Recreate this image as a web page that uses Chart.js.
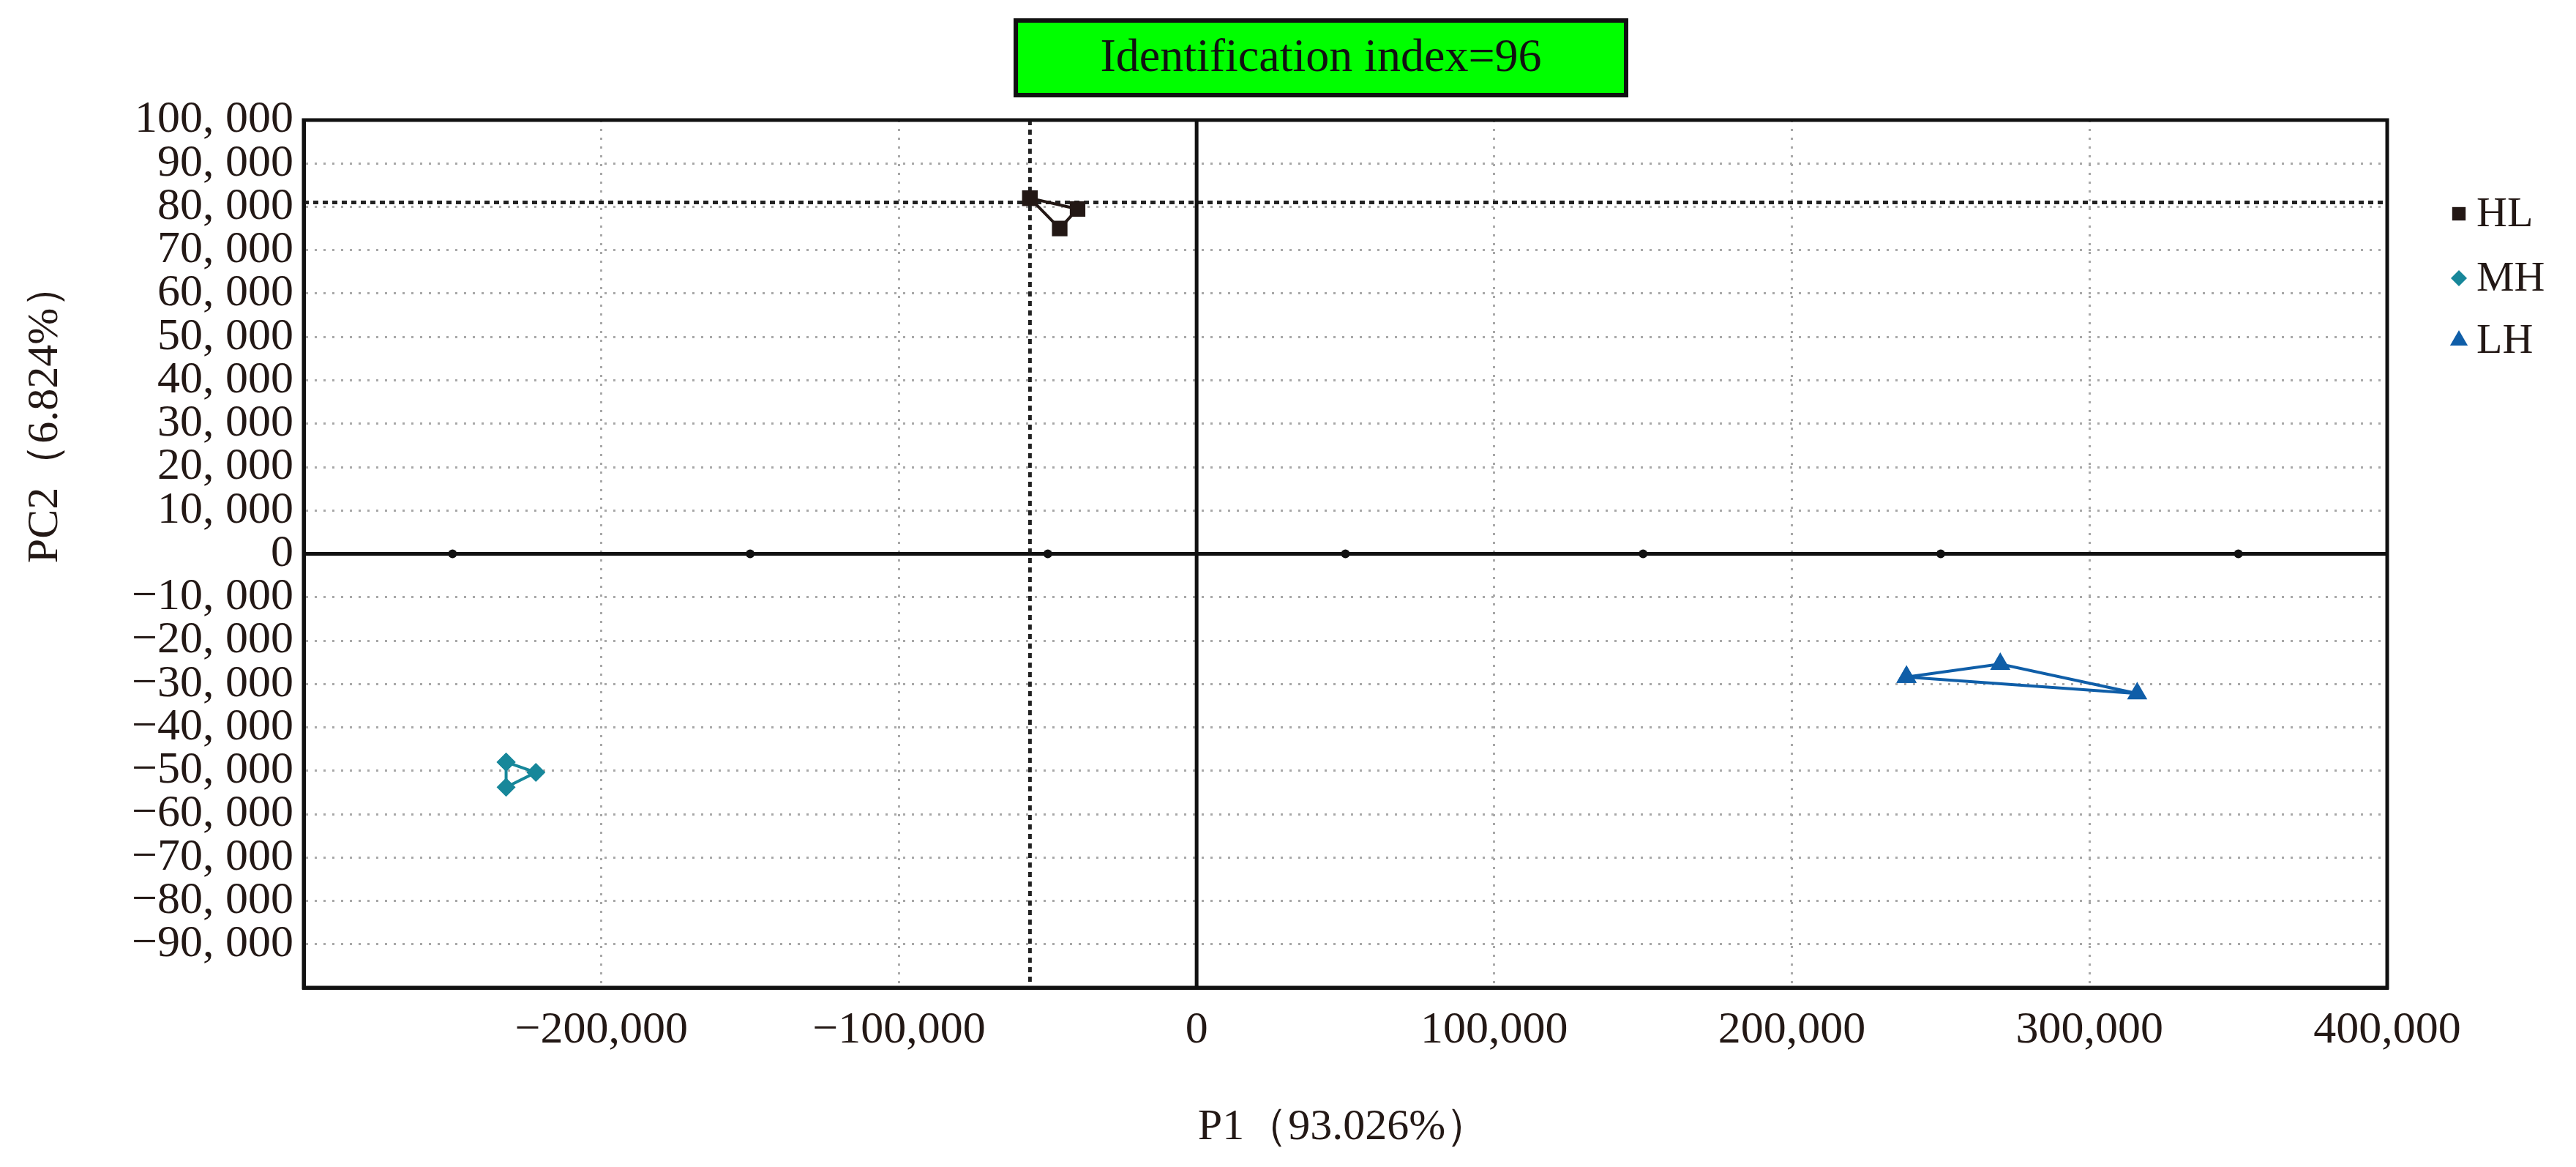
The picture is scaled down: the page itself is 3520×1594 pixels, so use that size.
<!DOCTYPE html>
<html>
<head>
<meta charset="utf-8">
<script src="https://cdn.jsdelivr.net/npm/chart.js@4.4.1/dist/chart.umd.min.js"></script>
<style>
  html, body { margin: 0; padding: 0; background: #fff; }
  #wrap { width: 3520px; height: 1594px; position: relative; }
</style>
</head>
<body>
<div id="wrap"><canvas id="pca"></canvas></div>
<script>
// --- data ---
const seriesNames = ['HL', 'MH', 'LH'];
const hlX = [-56000, -40000, -46000];
const hlY = [82000, 79500, 75000];
const mhX = [-232000, -232000, -222000];
const mhY = [-48000, -53800, -50400];
const lhX = [238500, 270000, 316000];
const lhY = [-28400, -25400, -32200];
const xTickLabels = [-200000, -100000, 0, 100000, 200000, 300000, 400000];
const yTickLabels = [-90000, -80000, -70000, -60000, -50000, -40000, -30000, -20000, -10000,
                     0, 10000, 20000, 30000, 40000, 50000, 60000, 70000, 80000, 90000, 100000];
const refLineX = -56000;
const refLineY = 81000;
const titleText = 'Identification index=96';

const FONT = '"Liberation Serif", "DejaVu Serif", serif';

// closed polygon: repeat the first point at the end
const ring = (xs, ys) => xs.map((x, i) => ({ x, y: ys[i] })).concat([{ x: xs[0], y: ys[0] }]);

const styles = [
    { color: '#231815', point: 'rect', radius: 15 },
    { color: '#17879a', point: 'rectRot', radius: 13 },
    { color: '#0f5ea8', point: 'triangle', radius: 16 }
];
const rings = [ring(hlX, hlY), ring(mhX, mhY), ring(lhX, lhY)];

const fmtY = v => {
    const s = Math.abs(v).toLocaleString('en-US').replace(/,/g, ', ');
    return (v < 0 ? '−' : '') + s;
};

// extra drawing: title box, zero lines, reference lines, legend, axis titles
const decorations = {
    id: 'decorations',
    beforeDatasetsDraw(chart) {
        const { ctx, chartArea: a, scales: { x, y } } = chart;
        ctx.save();
        // reference dashed lines
        ctx.strokeStyle = '#222';
        ctx.lineWidth = 5;
        ctx.setLineDash([7, 6]);
        const rx = x.getPixelForValue(refLineX);
        const ry = y.getPixelForValue(refLineY);
        ctx.beginPath(); ctx.moveTo(rx, a.top); ctx.lineTo(rx, a.bottom); ctx.stroke();
        ctx.beginPath(); ctx.moveTo(a.left, ry); ctx.lineTo(a.right, ry); ctx.stroke();
        // zero lines
        ctx.setLineDash([]);
        ctx.strokeStyle = '#111';
        ctx.lineWidth = 5;
        const zx = x.getPixelForValue(0);
        const zy = y.getPixelForValue(0);
        ctx.beginPath(); ctx.moveTo(zx, a.top); ctx.lineTo(zx, a.bottom); ctx.stroke();
        ctx.beginPath(); ctx.moveTo(a.left, zy); ctx.lineTo(a.right, zy); ctx.stroke();
        // minor tick dots on the zero line
        ctx.fillStyle = '#111';
        for (let v = -250000; v < 400000; v += 100000) {
            ctx.beginPath(); ctx.arc(x.getPixelForValue(v), zy, 6, 0, Math.PI * 2); ctx.fill();
        }
        ctx.restore();
    },
    afterDraw(chart) {
        const { ctx } = chart;
        ctx.save();
        // title box
        ctx.fillStyle = '#00ff00';
        ctx.fillRect(1388, 28, 834, 102);
        ctx.strokeStyle = '#111';
        ctx.lineWidth = 6;
        ctx.strokeRect(1388, 28, 834, 102);
        ctx.fillStyle = '#111';
        ctx.font = '64px ' + FONT;
        ctx.textAlign = 'center';
        ctx.textBaseline = 'middle';
        ctx.fillText(titleText, 1805, 80);
        // legend
        ctx.textAlign = 'left';
        ctx.font = '58px ' + FONT;
        const ly = [292, 380, 465];
        seriesNames.forEach((name, i) => {
            const s = styles[i];
            ctx.fillStyle = s.color;
            Chart.helpers.drawPoint(ctx, { pointStyle: s.point, radius: s.radius - 2, rotation: 0 }, 3360, ly[i]);
            ctx.fillStyle = '#231815';
            ctx.fillText(name, 3384, ly[i] + 2);
        });
        // axis titles
        ctx.textAlign = 'center';
        ctx.font = '60px ' + FONT;
        ctx.fillText('P1（93.026%）', 1836, 1540);
        ctx.translate(62, 565);
        ctx.rotate(-Math.PI / 2);
        ctx.fillText('PC2（6.824%）', 0, 0);
        ctx.restore();
    }
};

new Chart(document.getElementById('pca'), {
    type: 'scatter',
    data: {
        datasets: rings.map((pts, i) => ({
            label: seriesNames[i],
            data: pts,
            showLine: true,
            borderColor: styles[i].color,
            borderWidth: 4,
            backgroundColor: styles[i].color,
            pointStyle: styles[i].point,
            pointRadius: styles[i].radius,
            pointBorderWidth: 0,
            pointBackgroundColor: styles[i].color
        }))
    },
    options: {
        responsive: true,
        maintainAspectRatio: false,
        animation: false,
        devicePixelRatio: 1,
        layout: { padding: { left: 0, right: 258, top: 164, bottom: 0 } },
        plugins: { legend: { display: false }, tooltip: { enabled: false } },
        scales: {
            x: {
                type: 'linear',
                min: -300000, max: 400000,
                afterBuildTicks: s => { s.ticks = [-300000].concat(xTickLabels).map(v => ({ value: v })); },
                afterFit: s => { s.height = 245; },
                ticks: {
                    color: '#231815',
                    font: { family: FONT, size: 62 },
                    padding: 22,
                    maxRotation: 0,
                    autoSkip: false,
                    callback: v => xTickLabels.includes(v) ? v.toLocaleString('en-US').replace('-', '−') : ''
                },
                grid: {
                    color: c => (c.tick && (c.tick.value === 0 || c.tick.value === -300000 || c.tick.value === 400000)) ? 'rgba(0,0,0,0)' : '#a8a8a8',
                    lineWidth: 3,
                    drawTicks: false
                },
                border: { display: true, color: '#111', width: 5, dash: [3, 9] }
            },
            y: {
                type: 'linear',
                min: -100000, max: 100000,
                afterBuildTicks: s => { s.ticks = [-100000].concat(yTickLabels).map(v => ({ value: v })); },
                afterFit: s => { s.width = 415; },
                ticks: {
                    color: '#231815',
                    font: { family: FONT, size: 62, lineHeight: 1 },
                    padding: 14,
                    autoSkip: false,
                    callback: v => yTickLabels.includes(v) ? fmtY(v) : ''
                },
                grid: {
                    color: c => (c.tick && (c.tick.value === 0 || Math.abs(c.tick.value) === 100000)) ? 'rgba(0,0,0,0)' : '#a8a8a8',
                    lineWidth: 3,
                    drawTicks: false
                },
                border: { display: true, color: '#111', width: 5, dash: [3, 9] }
            }
        }
    },
    plugins: [decorations, {
        id: 'frame',
        afterDraw(chart) {
            const { ctx, chartArea: a } = chart;
            ctx.save();
            ctx.strokeStyle = '#111';
            ctx.lineWidth = 5;
            ctx.strokeRect(a.left, a.top, a.right - a.left, a.bottom - a.top);
            ctx.restore();
        }
    }]
});
</script>
</body>
</html>
